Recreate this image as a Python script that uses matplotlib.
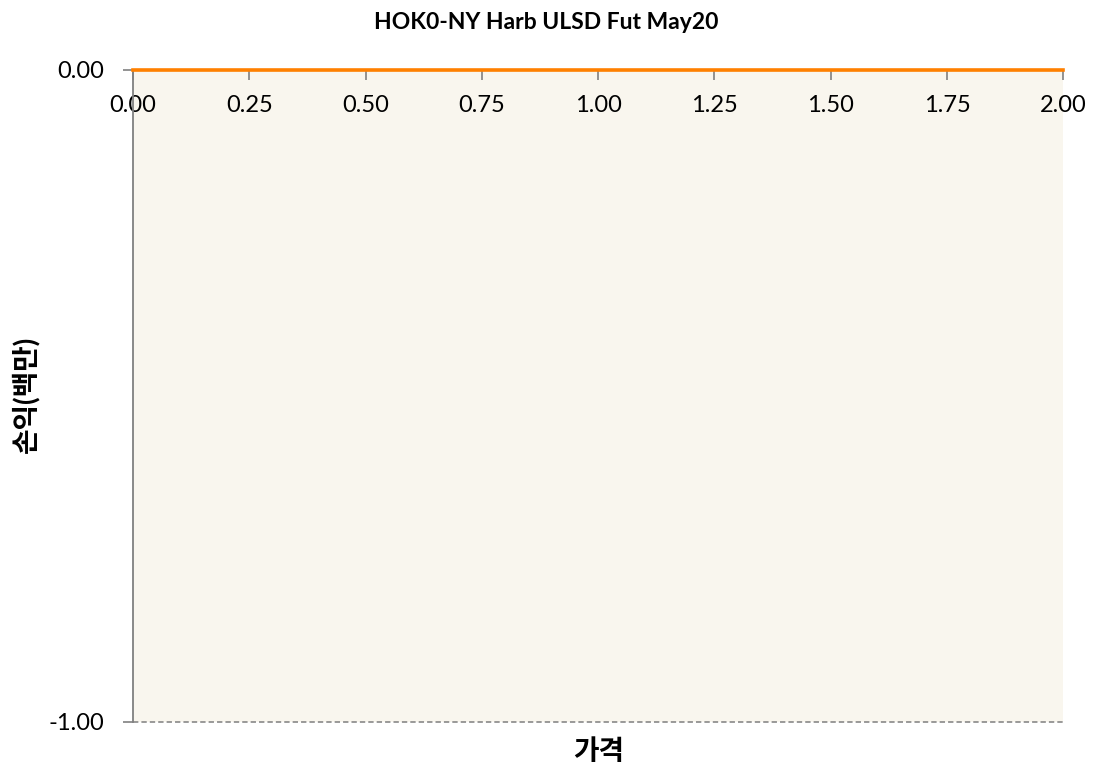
import matplotlib
matplotlib.use("Agg")
import matplotlib.pyplot as plt

plt.rcParams['font.family'] = ['Lato', 'Noto Sans CJK KR', 'DejaVu Sans']

# Payoff profile: price vs. P&L (millions)
price = [0.0, 0.5, 1.0, 1.5, 2.0]
pnl = [0.0, 0.0, 0.0, 0.0, 0.0]
x_ticks = [0.0, 0.25, 0.5, 0.75, 1.0, 1.25, 1.5, 1.75, 2.0]
y_ticks = [-1.0, 0.0]

title = "HOK0-NY Harb ULSD Fut May20"
x_label = "가격"
y_label = "손익(백만)"

fig = plt.figure(figsize=(10.93, 7.74), dpi=100)
ax = fig.add_axes([0.1217, 0.0672, 0.851, 0.8424])
ax.set_facecolor("#F9F6EE")

ax.plot(price, pnl, color="#FF8000", lw=2.6, clip_on=False, zorder=5)
ax.axhline(-1.0, color="#7F7F7F", lw=1.1, ls=(0, (3.5, 2)), zorder=3, clip_on=False)

ax.set_xlim(0, 2)
ax.set_ylim(-1, 0)
ax.set_xticks(x_ticks)
ax.set_xticklabels([f"{v:.2f}" for v in x_ticks])
ax.set_yticks(y_ticks)
ax.set_yticklabels([f"{v:.2f}" for v in y_ticks])

# x axis sits on the zero line, at the top of the plot
ax.spines['bottom'].set_position(('data', 0))
ax.spines['bottom'].set_color("#808080")
ax.spines['left'].set_color("#808080")
ax.spines['left'].set_linewidth(1.3)
ax.spines['top'].set_visible(False)
ax.spines['right'].set_visible(False)

ax.tick_params(axis='x', direction='out', length=7, width=1.2, color="#808080",
               labelsize=17, pad=11)
ax.tick_params(axis='y', direction='out', length=7, width=1.2, color="#808080",
               labelsize=17, pad=14)

fig.text(0.5, 0.971, title, ha='center', va='center', fontsize=16.5, fontweight='bold')
fig.text(0.5475, 0.029, x_label, ha='center', va='center', fontsize=20, fontweight='bold')
fig.text(0.023, 0.49, y_label, ha='center', va='center', fontsize=20, fontweight='bold',
         rotation=90)

fig.savefig("out.png", dpi=100)
